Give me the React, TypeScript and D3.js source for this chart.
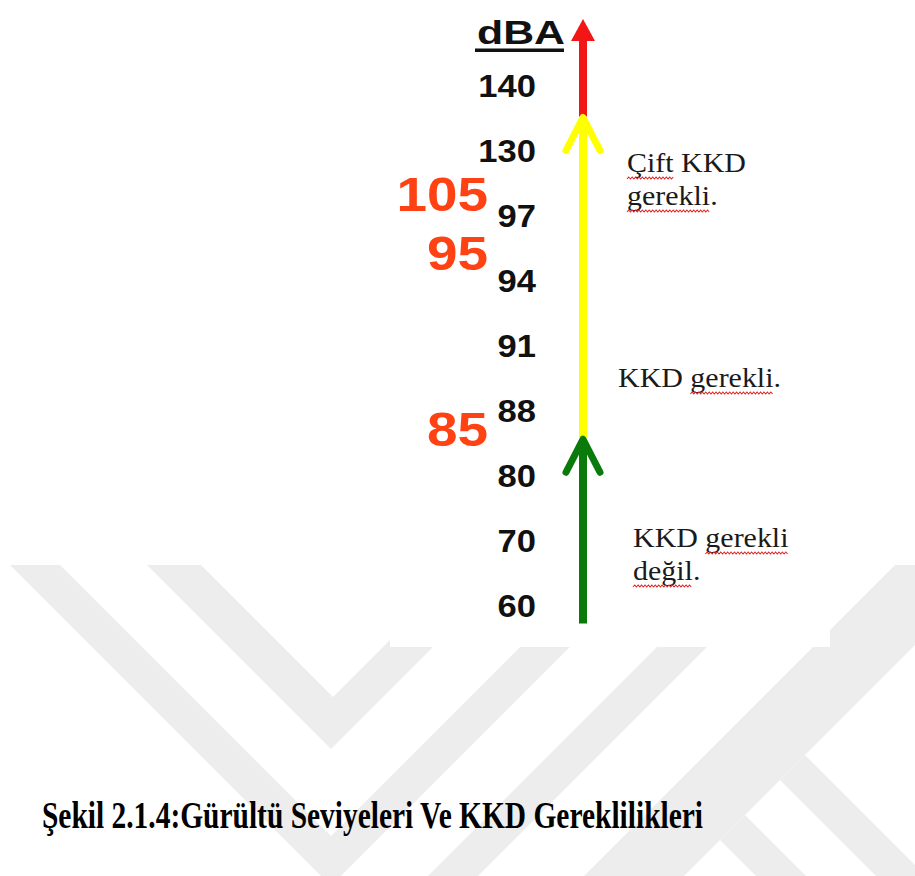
import React, { useEffect, useRef } from "react";
import * as d3 from "d3";

const W = 915;
const H = 876;

// ---- data ----
const unitLabel = "dBA";
const tickLabels = ["140", "130", "97", "94", "91", "88", "80", "70", "60"];
const tickValues = [140, 130, 97, 94, 91, 88, 80, 70, 60];
const thresholdValues = [105, 95, 85];
const zoneNames = ["KKD gerekli değil.", "KKD gerekli.", "Çift KKD gerekli."];
const zoneFrom = [59, 86, 137];
const zoneTo = [86, 137, 152];
const zoneColors = ["#0a7a0a", "#ffff00", "#f21616"];
const caption = "Şekil 2.1.4:Gürültü Seviyeleri Ve KKD Gereklilikleri";

// ---- layout / style ----
const noteLines = [["KKD gerekli", "değil."], ["KKD gerekli."], ["Çift KKD", "gerekli."]];
const noteWavy = [[["gerekli"], ["değil"]], [["gerekli"]], [["Çift"], ["gerekli"]]];
const noteAnchor = [
  { x: 633, y: 547 },
  { x: 618, y: 387 },
  { x: 627, y: 172 },
];
const SANS = "'Liberation Sans', Arial, sans-serif";
const SERIF = "'Liberation Serif', 'Times New Roman', serif";

// decorative background watermark bands
const wmPolys: number[][][] = [
  [[147, 565], [201, 565], [333, 697], [465, 565], [515, 565], [331, 749]],
  [[10, 565], [60, 565], [331, 836], [602, 565], [652, 565], [331, 886]],
  [[428, 876], [739, 565], [789, 565], [478, 876]],
  [[584, 876], [895, 565], [995, 565], [684, 876]],
  [[805, 755], [915, 865], [915, 876], [876, 876], [780, 780]],
  [[745, 815], [806, 876], [756, 876], [720, 840]],
];

export default function App() {
  const ref = useRef<SVGSVGElement>(null);

  useEffect(() => {
    const svg = d3.select(ref.current);
    svg.selectAll("*").remove();

    svg.append("rect").attr("width", W).attr("height", H).attr("fill", "#fff");

    const wm = svg.append("g").attr("fill", "#ededed");
    wmPolys.forEach((p) =>
      wm.append("path").attr("d", "M" + p.map((q) => q.join(",")).join("L") + "Z")
    );
    // pasted picture (white) covering the watermark
    svg.append("rect").attr("x", 390).attr("y", 0).attr("width", 440).attr("height", 647).attr("fill", "#fff");

    const pt = d3.scalePoint<string>().domain(tickLabels).range([97, 617]);
    const y = d3
      .scaleLinear()
      .domain(tickValues)
      .range(tickLabels.map((t) => pt(t) as number));
    const axisX = 583;

    // unit label
    svg
      .append("text")
      .attr("x", 477)
      .attr("y", 44)
      .attr("font-family", SANS)
      .attr("font-weight", "bold")
      .attr("font-size", 33)
      .attr("textLength", 88)
      .attr("lengthAdjust", "spacingAndGlyphs")
      .attr("fill", "#111")
      .text(unitLabel);
    svg.append("rect").attr("x", 475).attr("y", 48.5).attr("width", 89).attr("height", 3.5).attr("fill", "#111");

    // tick labels
    tickLabels.forEach((t, i) => {
      svg
        .append("g")
        .attr("transform", `translate(536,${y(tickValues[i])}) scale(1.08,1)`)
        .append("text")
        .attr("text-anchor", "end")
        .attr("font-family", SANS)
        .attr("font-weight", "bold")
        .attr("font-size", 32)
        .attr("fill", "#111")
        .text(t);
    });

    // threshold labels
    thresholdValues.forEach((v) => {
      svg
        .append("g")
        .attr("transform", `translate(488,${y(v)}) scale(1.12,1)`)
        .append("text")
        .attr("text-anchor", "end")
        .attr("font-family", SANS)
        .attr("font-weight", "bold")
        .attr("font-size", 49)
        .attr("fill", "#ff4214")
        .text(String(v));
    });

    // arrows: draw top zone first so lower heads sit on top
    [2, 1, 0].forEach((i) => {
      const yb = y(zoneFrom[i]);
      const yt = y(zoneTo[i]);
      const c = zoneColors[i];
      if (i === 2) {
        const headH = 22;
        svg
          .append("line")
          .attr("x1", axisX)
          .attr("x2", axisX)
          .attr("y1", yb)
          .attr("y2", yt + headH - 1)
          .attr("stroke", c)
          .attr("stroke-width", 8);
        svg
          .append("path")
          .attr("d", `M${axisX},${yt}L${axisX + 12},${yt + headH}L${axisX - 12},${yt + headH}Z`)
          .attr("fill", c);
      } else {
        svg
          .append("line")
          .attr("x1", axisX)
          .attr("x2", axisX)
          .attr("y1", yb)
          .attr("y2", yt + 2)
          .attr("stroke", c)
          .attr("stroke-width", 8);
        svg
          .append("path")
          .attr("d", `M${axisX - 17},${yt + 34}L${axisX},${yt + 1}L${axisX + 17},${yt + 34}`)
          .attr("fill", "none")
          .attr("stroke", c)
          .attr("stroke-width", 7)
          .attr("stroke-linecap", "round")
          .attr("stroke-linejoin", "round");
      }
    });

    // annotations
    noteLines.forEach((lines, i) => {
      const a = noteAnchor[i];
      lines.forEach((line, j) => {
        const g = svg.append("g").attr("transform", `translate(${a.x},${a.y + j * 33}) scale(1.07,1)`);
        const txt = g
          .append("text")
          .attr("font-family", SERIF)
          .attr("font-size", 28)
          .attr("fill", "#1a1a1a")
          .text(line);
        const node = txt.node() as SVGTextElement;
        (noteWavy[i][j] || []).forEach((word) => {
          const idx = line.indexOf(word);
          if (idx < 0) return;
          let s = 0;
          let len = 0;
          try {
            s = idx > 0 ? node.getSubStringLength(0, idx) : 0;
            len = node.getSubStringLength(idx, word.length);
          } catch (e) {
            return;
          }
          const pts: [number, number][] = [];
          let k = 0;
          for (let x = s; x <= s + len; x += 1.6, k++) pts.push([x, 6 + (k % 2 ? -1 : 1)]);
          g.append("path")
            .attr("d", d3.line()(pts) as string)
            .attr("fill", "none")
            .attr("stroke", "#e02424")
            .attr("stroke-width", 1);
        });
      });
    });

    // caption
    svg
      .append("g")
      .attr("transform", "translate(42,828) scale(1,1.28)")
      .append("text")
      .attr("font-family", SERIF)
      .attr("font-weight", "bold")
      .attr("font-size", 29.3)
      .attr("textLength", 661)
      .attr("lengthAdjust", "spacingAndGlyphs")
      .attr("fill", "#000")
      .text(caption);
  }, []);

  return (
    <svg
      ref={ref}
      width={W}
      height={H}
      style={{ position: "absolute", left: 0, top: 0, display: "block" }}
    />
  );
}
